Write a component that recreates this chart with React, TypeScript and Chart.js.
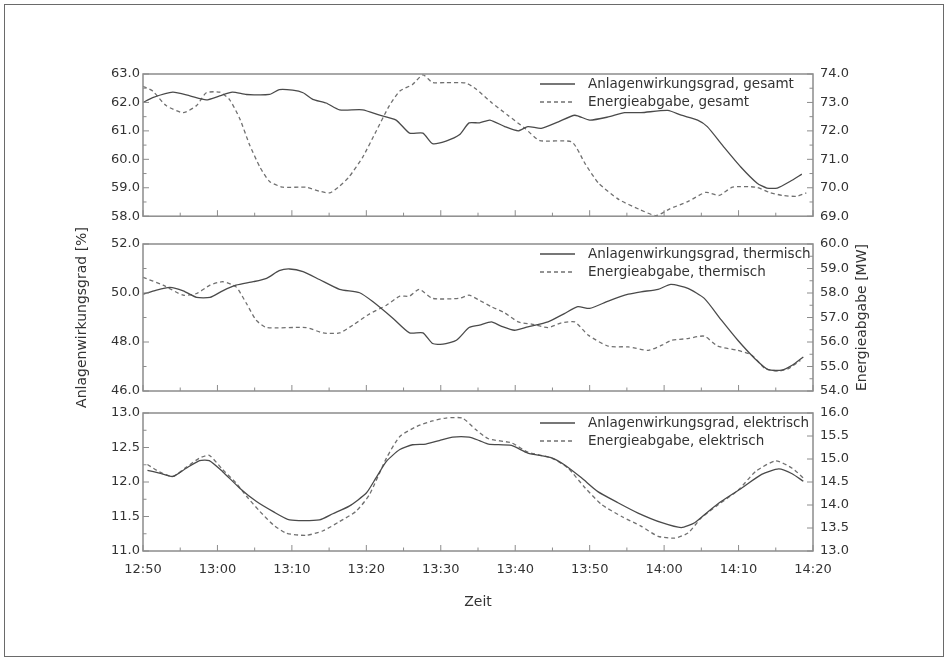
import React, { useEffect, useRef } from "react";
import { Chart, registerables } from "chart.js";

Chart.register(...registerables);

// ---------- data ----------
const xTickLabels = ["12:50", "13:00", "13:10", "13:20", "13:30", "13:40", "13:50", "14:00", "14:10", "14:20"];

// minutes after 12:50
const tGesamtEta = [0, 1.3, 4, 6.3, 8.5, 10.3, 12, 13.9, 17, 18.3, 20.1, 21.5, 22.8, 24.6, 26.4, 29.5, 31.8, 34, 35.8, 37.6, 38.9, 40.7, 42.5, 43.8, 45.2, 46.6, 48.6, 50.4, 51.7, 53.5, 55.8, 58, 60, 62.5, 64.7, 66.9, 70.5, 72.3, 74.5, 75.8, 78.1, 80.3, 82.5, 83.8, 85.2, 86.9, 88.5];
const gesamtEta = [62.0, 62.17, 62.36, 62.23, 62.09, 62.23, 62.36, 62.28, 62.28, 62.45, 62.43, 62.34, 62.11, 61.98, 61.74, 61.74, 61.55, 61.38, 60.92, 60.92, 60.55, 60.64, 60.86, 61.28, 61.28, 61.38, 61.15, 61.0, 61.15, 61.09, 61.32, 61.55, 61.38, 61.49, 61.64, 61.64, 61.72, 61.55, 61.38, 61.15, 60.41, 59.73, 59.16, 58.99, 58.99, 59.22, 59.48];

const tGesamtE = [0, 1.3, 3.1, 5.4, 7.2, 8.5, 10.3, 11.6, 13, 14.3, 15.7, 17, 18.8, 21.9, 23.7, 25.1, 26.4, 27.7, 29.5, 31.3, 33.1, 34.5, 36.2, 37.6, 38.9, 40.7, 43.4, 44.7, 46.8, 49, 51.3, 53.3, 57.6, 59.4, 61.2, 63.9, 66.6, 68.9, 70.7, 73.3, 75.6, 77.4, 79.2, 82.4, 84.1, 85.9, 87.8, 89.1];
const gesamtE = [73.57, 73.4, 72.89, 72.64, 72.89, 73.34, 73.36, 73.11, 72.43, 71.52, 70.73, 70.22, 70.02, 70.02, 69.88, 69.82, 70.05, 70.39, 71.07, 71.98, 72.89, 73.4, 73.63, 73.97, 73.7, 73.7, 73.68, 73.48, 73.0, 72.55, 72.09, 71.66, 71.61, 70.84, 70.16, 69.59, 69.25, 69.02, 69.25, 69.53, 69.84, 69.73, 70.02, 70.02, 69.84, 69.73, 69.7, 69.82];

const tThermEta = [0, 1.8, 3.6, 5.4, 7.2, 9, 10.7, 12.5, 14.8, 16.6, 18.3, 19.7, 21.5, 23.7, 26.4, 29.1, 30.9, 33.6, 35.8, 37.6, 38.9, 40.3, 42.1, 43.8, 45.2, 46.8, 48.1, 49.9, 51.7, 54.4, 56.6, 58.4, 60, 62.5, 65.2, 66.9, 69.2, 70.9, 73.2, 75.4, 77.7, 79.9, 82.2, 84, 85.8, 87.2, 88.7];
const thermEta = [49.95, 50.12, 50.23, 50.09, 49.82, 49.82, 50.09, 50.32, 50.46, 50.6, 50.91, 50.98, 50.87, 50.55, 50.15, 50.01, 49.64, 48.96, 48.37, 48.37, 47.94, 47.91, 48.07, 48.59, 48.69, 48.82, 48.65, 48.48, 48.62, 48.82, 49.16, 49.44, 49.37, 49.67, 49.95, 50.05, 50.15, 50.35, 50.19, 49.78, 48.89, 48.07, 47.32, 46.87, 46.85, 47.05, 47.39];

const tThermE = [0, 2.7, 5.4, 7.2, 9, 10.7, 12.5, 13.9, 15.2, 16.6, 21.9, 24.2, 26.4, 28.2, 30.4, 32.7, 34.5, 35.8, 37.1, 38.9, 42.5, 43.8, 45.2, 46.8, 48.6, 50.4, 52.2, 54.4, 56.2, 58, 59.8, 62.5, 65.2, 67.9, 69.7, 71, 73.2, 75.4, 77.2, 79.9, 81.8, 83.6, 85.4, 86.7, 88.3];
const thermE = [58.64, 58.32, 57.91, 57.98, 58.32, 58.46, 58.25, 57.57, 56.89, 56.59, 56.59, 56.37, 56.37, 56.69, 57.14, 57.5, 57.87, 57.87, 58.15, 57.78, 57.78, 57.91, 57.7, 57.44, 57.19, 56.82, 56.73, 56.59, 56.78, 56.82, 56.28, 55.83, 55.8, 55.66, 55.87, 56.07, 56.14, 56.24, 55.83, 55.66, 55.46, 54.91, 54.82, 54.91, 55.25];

const tElEta = [0.6, 2.2, 4, 5.8, 7.6, 8.9, 10.7, 13, 15.2, 17.5, 19.7, 23.7, 25.5, 27.7, 30, 31.3, 32.7, 34.5, 36.2, 38, 39.8, 41.6, 43.8, 45.2, 46.4, 49.5, 51.7, 54.9, 56.6, 58.9, 61.1, 63.8, 66.5, 69.7, 72.3, 74.1, 75.9, 77.7, 80.4, 83.1, 85.4, 87.2, 88.7];
const elEta = [12.17, 12.13, 12.08, 12.2, 12.31, 12.31, 12.15, 11.91, 11.72, 11.57, 11.45, 11.45, 11.54, 11.65, 11.84, 12.06, 12.3, 12.47, 12.54, 12.55, 12.6, 12.65, 12.65, 12.6, 12.55, 12.53, 12.42, 12.35, 12.25, 12.06, 11.86, 11.7, 11.55, 11.41, 11.34, 11.41, 11.57, 11.72, 11.91, 12.11, 12.19, 12.12, 12.01];

const tElE = [0.6, 2.2, 4, 5.8, 7.6, 8.9, 10.7, 12.5, 13.9, 15.7, 17.5, 19.2, 21.9, 24.2, 26.4, 28.6, 30.4, 32.7, 34.5, 36.8, 38.9, 40.7, 42.9, 44.7, 46.4, 49.5, 51.7, 54.9, 57.1, 59.4, 61.6, 64.3, 66.9, 69.2, 71.4, 73.2, 75, 77.3, 80, 82.3, 85, 87.2, 88.7];
const elE = [14.88, 14.72, 14.62, 14.82, 15.02, 15.08, 14.77, 14.48, 14.19, 13.86, 13.57, 13.39, 13.34, 13.44, 13.64, 13.86, 14.22, 15.02, 15.49, 15.71, 15.83, 15.89, 15.89, 15.64, 15.44, 15.35, 15.15, 15.02, 14.8, 14.37, 14.01, 13.75, 13.54, 13.32, 13.28, 13.39, 13.72, 14.01, 14.33, 14.73, 14.96, 14.8, 14.59];

// ---------- styles ----------
const FONT = "'DejaVu Sans', 'Liberation Sans', sans-serif";
const TEXT_COLOR = "#333333";
const FRAME_COLOR = "#8c8c8c";
const SOLID_COLOR = "#4a4a4a";
const DASH_COLOR = "#707070";
const DASH = [4, 3];

const toXY = (t: number[], v: number[]) => t.map((x, i) => ({ x, y: v[i] }));

const decorPlugin = {
  id: "decor",
  afterDatasetsDraw(chart: any, _args: any, opts: any) {
    const { ctx, chartArea: a, scales } = chart;
    ctx.save();
    const seg = (x1: number, y1: number, x2: number, y2: number) => {
      ctx.beginPath();
      ctx.moveTo(x1, y1);
      ctx.lineTo(x2, y2);
      ctx.stroke();
    };
    ctx.strokeStyle = FRAME_COLOR;
    ctx.lineWidth = 1;
    ctx.setLineDash([]);
    // inward x ticks
    const xs = scales.x;
    const nx = Math.round((xs.max - xs.min) / 5);
    for (let i = 0; i <= nx; i++) {
      const px = xs.getPixelForValue(xs.min + i * 5);
      seg(px, a.bottom, px, a.bottom - (i % 2 === 0 ? 6 : 3.5));
    }
    // inward y ticks
    for (const id of ["yL", "yR"]) {
      const s = scales[id];
      const c = opts.ticks[id];
      const n = Math.round((s.max - s.min) / c.minor);
      const per = Math.round(c.major / c.minor);
      for (let i = 0; i <= n; i++) {
        const py = s.getPixelForValue(s.min + i * c.minor);
        const len = i % per === 0 ? 6 : 3.5;
        if (id === "yL") seg(a.left, py, a.left + len, py);
        else seg(a.right, py, a.right - len, py);
      }
    }
    // frame
    ctx.lineWidth = 1.5;
    ctx.strokeRect(a.left, a.top, a.right - a.left, a.bottom - a.top);
    // legend
    ctx.font = `13.5px ${FONT}`;
    ctx.textBaseline = "middle";
    ctx.textAlign = "left";
    ctx.fillStyle = TEXT_COLOR;
    opts.legend.forEach((item: any, i: number) => {
      const y = a.top + 10 + i * 18;
      ctx.strokeStyle = item.color;
      ctx.lineWidth = 1.3;
      ctx.setLineDash(item.dash);
      seg(a.left + 397, y, a.left + 432, y);
      ctx.setLineDash([]);
      ctx.fillText(item.text, a.left + 445, y);
    });
    // right axis title
    if (opts.rightTitle) {
      ctx.translate(a.right + 49, (a.top + a.bottom) / 2);
      ctx.rotate(-Math.PI / 2);
      ctx.textAlign = "center";
      ctx.font = `14px ${FONT}`;
      ctx.fillText(opts.rightTitle, 0, 0);
    }
    ctx.restore();
  },
};

type PanelSpec = {
  top: number;
  height: number;
  padTop: number;
  padBottom: number;
  showX: boolean;
  yL: { min: number; max: number; step: number; minor: number };
  yR: { min: number; max: number; step: number; minor: number };
  solid: { label: string; data: { x: number; y: number }[] };
  dashed: { label: string; data: { x: number; y: number }[] };
  leftTitle?: string;
  rightTitle?: string;
};

const panels: PanelSpec[] = [
  {
    top: 56, height: 175, padTop: 18, padBottom: 10, showX: false,
    yL: { min: 58, max: 63, step: 1, minor: 0.5 },
    yR: { min: 69, max: 74, step: 1, minor: 0.5 },
    solid: { label: "Anlagenwirkungsgrad, gesamt", data: toXY(tGesamtEta, gesamtEta) },
    dashed: { label: "Energieabgabe, gesamt", data: toXY(tGesamtE, gesamtE) },
  },
  {
    top: 216, height: 205, padTop: 28, padBottom: 30, showX: false,
    yL: { min: 46, max: 52, step: 2, minor: 1 },
    yR: { min: 54, max: 60, step: 1, minor: 0.5 },
    solid: { label: "Anlagenwirkungsgrad, thermisch", data: toXY(tThermEta, thermEta) },
    dashed: { label: "Energieabgabe, thermisch", data: toXY(tThermE, thermE) },
    leftTitle: "Anlagenwirkungsgrad [%]",
    rightTitle: "Energieabgabe [MW]",
  },
  {
    top: 395, height: 236, padTop: 18, padBottom: 10, showX: true,
    yL: { min: 11, max: 13, step: 0.5, minor: 0.25 },
    yR: { min: 13, max: 16, step: 0.5, minor: 0.5 },
    solid: { label: "Anlagenwirkungsgrad, elektrisch", data: toXY(tElEta, elEta) },
    dashed: { label: "Energieabgabe, elektrisch", data: toXY(tElE, elE) },
  },
];

function makeChart(canvas: HTMLCanvasElement, p: PanelSpec) {
  const tickFont = { family: FONT, size: 13 };
  return new Chart(canvas, {
    type: "line",
    data: {
      datasets: [
        {
          label: p.solid.label,
          data: p.solid.data,
          yAxisID: "yL",
          borderColor: SOLID_COLOR,
          borderWidth: 1.3,
          pointRadius: 0,
          tension: 0.2,
          fill: false,
        },
        {
          label: p.dashed.label,
          data: p.dashed.data,
          yAxisID: "yR",
          borderColor: DASH_COLOR,
          borderWidth: 1.3,
          borderDash: DASH,
          pointRadius: 0,
          tension: 0.2,
          fill: false,
        },
      ],
    },
    options: {
      responsive: false,
      animation: false,
      events: [],
      layout: { padding: { top: p.padTop, bottom: p.padBottom, left: 0, right: 0 } },
      plugins: {
        legend: { display: false },
        tooltip: { enabled: false },
        decor: {
          ticks: {
            yL: { major: p.yL.step, minor: p.yL.minor },
            yR: { major: p.yR.step, minor: p.yR.minor },
          },
          legend: [
            { text: p.solid.label, color: SOLID_COLOR, dash: [] },
            { text: p.dashed.label, color: DASH_COLOR, dash: DASH },
          ],
          rightTitle: p.rightTitle,
        },
      } as any,
      scales: {
        x: {
          type: "linear",
          min: 0,
          max: 90,
          display: p.showX,
          grid: { display: false, drawTicks: false },
          border: { display: false },
          ticks: {
            stepSize: 10,
            autoSkip: false,
            maxRotation: 0,
            padding: 11,
            color: TEXT_COLOR,
            font: tickFont,
            callback: (v: any) => xTickLabels[Math.round(Number(v) / 10)] ?? "",
          },
          title: {
            display: p.showX,
            text: "Zeit",
            color: TEXT_COLOR,
            font: { family: FONT, size: 14 },
            padding: { top: 0, bottom: 10 },
          },
          afterFit: (s: any) => {
            s.height = p.showX ? 70 : 0;
          },
        },
        yL: {
          type: "linear",
          position: "left",
          min: p.yL.min,
          max: p.yL.max,
          grid: { display: false, drawTicks: false },
          border: { display: false },
          ticks: {
            stepSize: p.yL.step,
            autoSkip: false,
            padding: 3,
            color: TEXT_COLOR,
            font: tickFont,
            callback: (v: any) => Number(v).toFixed(1),
          },
          title: {
            display: !!p.leftTitle,
            text: p.leftTitle || "",
            color: TEXT_COLOR,
            font: { family: FONT, size: 14 },
            padding: { top: 74, bottom: 0 },
          },
          afterFit: (s: any) => {
            s.width = 143;
          },
        },
        yR: {
          type: "linear",
          position: "right",
          min: p.yR.min,
          max: p.yR.max,
          grid: { display: false, drawTicks: false },
          border: { display: false },
          ticks: {
            stepSize: p.yR.step,
            autoSkip: false,
            padding: 7,
            color: TEXT_COLOR,
            font: tickFont,
            callback: (v: any) => Number(v).toFixed(1),
          },
          afterFit: (s: any) => {
            s.width = 135;
          },
        },
      },
    } as any,
    plugins: [decorPlugin as any],
  });
}

export default function App() {
  const refs = [useRef<HTMLCanvasElement>(null), useRef<HTMLCanvasElement>(null), useRef<HTMLCanvasElement>(null)];

  useEffect(() => {
    const charts = panels.map((p, i) => makeChart(refs[i].current as HTMLCanvasElement, p));
    return () => charts.forEach((c) => c.destroy());
  }, []);

  return (
    <div
      style={{
        position: "fixed",
        left: 0,
        top: 0,
        width: 948,
        height: 661,
        background: "#ffffff",
        overflow: "hidden",
      }}
    >
      <div
        style={{
          position: "absolute",
          left: 4,
          top: 4,
          width: 940,
          height: 653,
          boxSizing: "border-box",
          border: "1px solid #6a6a6a",
        }}
      />
      {panels.map((p, i) => (
        <canvas
          key={i}
          ref={refs[i]}
          width={948}
          height={p.height}
          style={{ position: "absolute", left: 0, top: p.top, display: "block" }}
        />
      ))}
    </div>
  );
}
